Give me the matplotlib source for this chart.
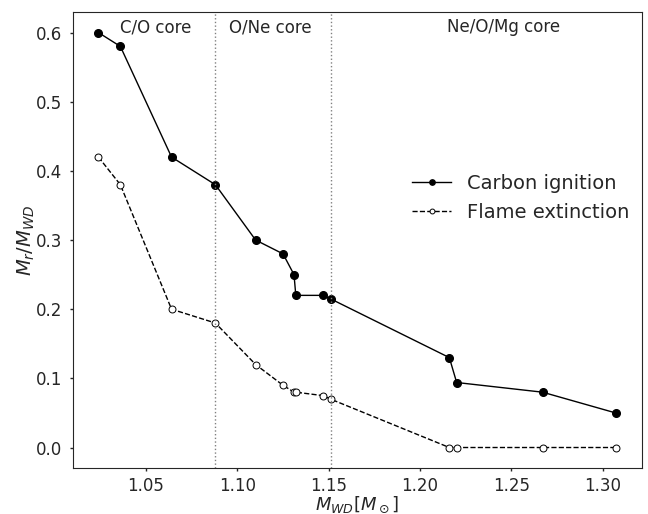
import matplotlib
matplotlib.use('Agg')
import matplotlib.pyplot as plt

# white dwarf masses of the models
m_wd = [1.024, 1.036, 1.064, 1.088, 1.110, 1.125, 1.131, 1.132,
        1.147, 1.151, 1.216, 1.220, 1.267, 1.307]
# mass coordinate of carbon ignition / flame extinction
ignition = [0.60, 0.58, 0.42, 0.38, 0.30, 0.28, 0.25, 0.22,
            0.22, 0.215, 0.13, 0.094, 0.08, 0.05]
extinction = [0.42, 0.38, 0.20, 0.18, 0.12, 0.09, 0.08, 0.08,
              0.075, 0.07, 0.0, 0.0, 0.0, 0.0]

# core composition boundaries
boundaries = [1.088, 1.151]
regions = ['C/O core', 'O/Ne core', 'Ne/O/Mg core']
region_x = [1.0554, 1.1183, 1.2459]

dark = '#262626'
plt.rcParams['text.color'] = dark
plt.rcParams['axes.labelcolor'] = dark
plt.rcParams['xtick.color'] = dark
plt.rcParams['ytick.color'] = dark
plt.rcParams['axes.edgecolor'] = dark
plt.rcParams['mathtext.fontset'] = 'dejavusans'

fig = plt.figure(figsize=(6.48, 5.14), dpi=100)
ax = fig.add_axes([0.112, 0.089, 0.878, 0.888])

ax.plot(m_wd, ignition, '-o', color='k', lw=1.0, ms=5.5,
        label='Carbon ignition')
ax.plot(m_wd, extinction, '--o', color='k', lw=1.0, ms=5.0,
        mfc='white', mew=0.7, label='Flame extinction')

for b in boundaries:
    ax.axvline(b, color='gray', ls=':', lw=1.0)

for name, xpos in zip(regions, region_x):
    ax.text(xpos, 0.608, name, ha='center', va='center', fontsize=12)

ax.set_xticks([1.05, 1.10, 1.15, 1.20, 1.25, 1.30])
ax.set_yticks([0.0, 0.1, 0.2, 0.3, 0.4, 0.5, 0.6])
ax.tick_params(labelsize=12, length=2.5, width=1, pad=4)
ax.tick_params(axis='y', pad=5)
ax.set_xlabel(r'$M_{WD}[M_\odot]$', fontsize=13, labelpad=-0.5)
ax.set_ylabel(r'$M_r/M_{WD}$', fontsize=14, labelpad=-1)

ax.legend(loc='center left', bbox_to_anchor=(0.566, 0.592), frameon=False,
          fontsize=14, handlelength=2.0, markerscale=0.7)

fig.savefig('out.png', dpi=100)
